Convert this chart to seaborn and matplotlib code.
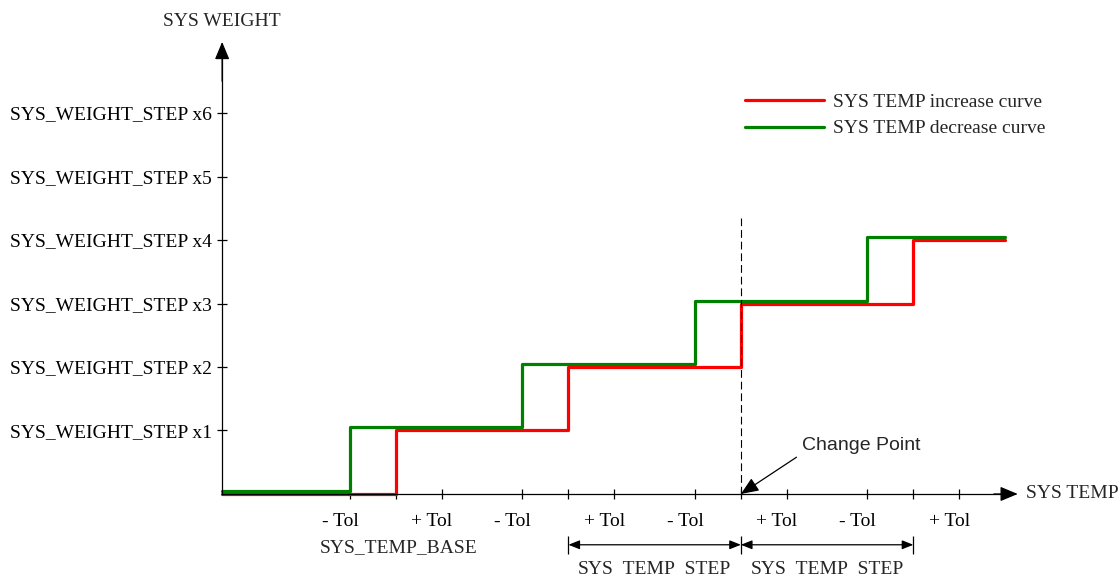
import matplotlib.pyplot as plt
import seaborn as sns
from matplotlib.transforms import ScaledTranslation

# SYS TEMP axis in units of Tol, SYS_TEMP_BASE at 0, SYS_TEMP_STEP = 3.75 Tol
temp_min = -3.78
temp_max = 13.24
increase_temp = [temp_min, 0.0, 3.75, 7.5, 11.25, temp_max]
decrease_temp = [temp_min, -1.0, 2.75, 6.5, 10.25, temp_max]
weight_steps = [0, 1, 2, 3, 4, 4]

tick_temps = [-1.0, 0.0, 1.0, 2.75, 3.75, 4.75, 6.5, 7.5, 8.5, 10.25, 11.25, 12.25]
tick_names = ["- Tol", "", "+ Tol"] * 4
weight_ticks = [1, 2, 3, 4, 5, 6]
weight_names = ["SYS_WEIGHT_STEP x%d" % i for i in weight_ticks]

step_bounds = [3.75, 7.5, 11.25]
change_point = 7.5

sns.set_theme(style="white")
plt.rcParams['font.family'] = ['Liberation Serif', 'DejaVu Serif']

fig = plt.figure(figsize=(11.18, 5.75), dpi=100)
ax = fig.add_axes([0, 0, 1, 1])
ax.set_xlim(-8.61, 15.70)
ax.set_ylim(-1.276, 7.78)

sns.lineplot(x=increase_temp, y=weight_steps, drawstyle='steps-post', color='#ff0000',
             lw=2.3, estimator=None, label='SYS TEMP increase curve', ax=ax)
sns.lineplot(x=decrease_temp, y=weight_steps, drawstyle='steps-post', color='#008000',
             lw=2.3, estimator=None, label='SYS TEMP decrease curve', ax=ax)
# lift the green curve a few pixels so both stay visible where they overlap
ax.lines[-1].set_transform(ax.transData + ScaledTranslation(0, 0.03, fig.dpi_scale_trans))

# axes drawn as arrows through the origin
for side in ['top', 'right']:
    ax.spines[side].set_visible(False)
ax.spines['left'].set_position(('data', temp_min))
ax.spines['bottom'].set_position(('data', 0))
ax.spines['left'].set_bounds(0, 6.9)
ax.spines['bottom'].set_bounds(temp_min, 13.3)
for side in ['left', 'bottom']:
    ax.spines[side].set_color('black')
    ax.spines[side].set_linewidth(0.9)

head = '-|>,head_length=0.6,head_width=0.25'
ax.annotate('', xy=(temp_min, 7.12), xytext=(temp_min, 6.5),
            arrowprops=dict(arrowstyle=head, color='black', lw=0.9, mutation_scale=18,
                            shrinkA=0, shrinkB=0))
ax.annotate('', xy=(13.52, 0), xytext=(13.0, 0),
            arrowprops=dict(arrowstyle=head, color='black', lw=0.9, mutation_scale=18,
                            shrinkA=0, shrinkB=0))

ax.set_xticks(tick_temps)
ax.set_xticklabels(tick_names)
ax.set_yticks(weight_ticks)
ax.set_yticklabels(weight_names)
ax.tick_params(bottom=True, left=True, direction='inout', length=7, width=0.9,
               colors='black', labelsize=14, pad=4)
ax.tick_params(axis='x', pad=10)
for lbl in ax.get_xticklabels():
    lbl.set_transform(lbl.get_transform() + ScaledTranslation(-0.10, 0, fig.dpi_scale_trans))
ax.set_xlabel('')
ax.set_ylabel('')

ax.text(temp_min, 7.44, 'SYS WEIGHT', ha='center', va='center', fontsize=14)
ax.text(13.7, 0, 'SYS TEMP', ha='left', va='center', fontsize=14)
ax.text(0.05, -0.913, 'SYS_TEMP_BASE', ha='center', va='baseline', fontsize=14)

# change point marker
ax.vlines(change_point, 0, 4.35, colors='black', lw=0.8, linestyles=(0, (7, 3.5)))
ax.annotate('Change Point', xy=(change_point, 0), xytext=(8.83, 0.70),
            ha='left', va='baseline', fontsize=14, family=['Liberation Sans', 'DejaVu Sans'],
            arrowprops=dict(arrowstyle=head, color='black', lw=0.9, mutation_scale=18,
                            relpos=(0, 0), shrinkA=2, shrinkB=0))

# SYS_TEMP_STEP dimension arrows
ax.vlines(step_bounds, -0.66, -0.94, colors='black', lw=0.9)
for a, b in zip(step_bounds[:-1], step_bounds[1:]):
    ax.annotate('', xy=(b, -0.8), xytext=(a, -0.8),
                arrowprops=dict(arrowstyle='<|-|>,head_length=0.45,head_width=0.18',
                                color='black', lw=0.9, mutation_scale=15,
                                shrinkA=0, shrinkB=0))
    ax.text((a + b) / 2, -1.244, 'SYS_TEMP_STEP', ha='center', va='baseline', fontsize=14)

ax.legend(loc='center left', bbox_to_anchor=(0.6664, 0.7993), frameon=False, fontsize=14,
          handlelength=4.07, handletextpad=0.46, labelspacing=0.45,
          borderpad=0, borderaxespad=0)

plt.savefig('out.png', dpi=100)
